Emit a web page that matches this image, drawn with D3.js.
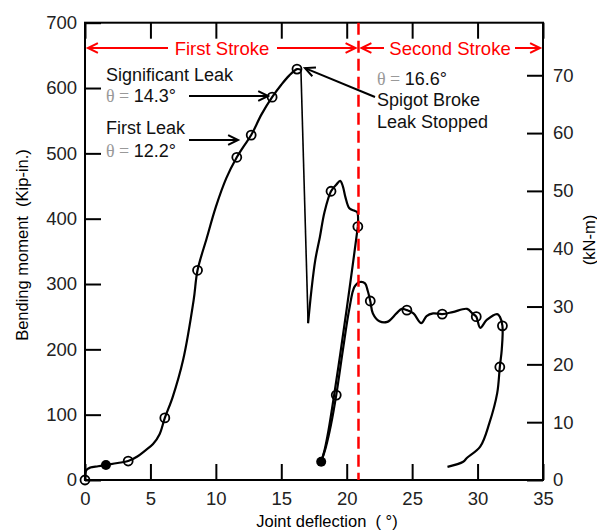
<!DOCTYPE html>
<html>
<head>
<meta charset="utf-8">
<script src="https://cdn.jsdelivr.net/npm/d3@7"></script>
<style>
  body { margin: 0; background: #fff; }
  text { font-family: "Liberation Sans", Arial, sans-serif; white-space: pre; }
</style>
</head>
<body>
<div id="viz"></div>
<script>
// joint deflection (deg) vs bending moment (kip-in.)
var loadUp = [[0,0],[0.1,15],[0.4,19],[1.0,21],[1.6,23],[2.5,26],[3.3,29],[4.0,36],[4.6,45],[5.2,55],
    [5.7,70],[6.1,95],[6.7,127],[7.5,184],[8.3,275],[8.6,321],[9.3,370],[10.0,418],[10.8,462],
    [11.6,494],[12.1,510],[12.7,528],[13.5,560],[14.3,586],[15.0,605],[15.6,619],[16.2,629],[16.5,628]];
var dropLine = [[16.5,628],[17.05,240]];
var rebound = [[17.05,240],[17.3,290],[17.6,337],[17.95,372],[18.3,410],[18.8,442],[19.2,452],
    [19.5,458],[19.7,450],[19.9,433],[20.2,416],[20.6,412],[20.8,410],[20.85,388]];
var unload = [[20.85,388],[20.5,335],[20.0,262],[19.5,192],[19.0,125],[18.6,75],[18.3,45],[18.05,28]];
var reload = [[18.05,28],[18.4,50],[18.8,85],[19.2,130],[19.7,198],[20.2,262],[20.6,296],[21.0,303],
    [21.4,301],[21.6,290],[21.8,274],[22.0,255],[22.5,243],[23.1,242],[23.8,255],[24.2,262],[24.6,260],
    [25.1,255],[25.7,240],[26.1,251],[26.6,255],[27.3,254],[28.1,257],[29.2,262],[29.6,255],[29.9,250],
    [30.2,233],[30.7,245],[31.5,254],[31.7,250],[31.9,236],[31.85,200],[31.7,173],[31.5,133],[30.9,87],
    [30.2,51],[29.2,34],[28.9,28],[27.7,20]];
var openMarks = [[0,0],[3.3,29],[6.1,95],[8.6,321],[11.6,494],[12.7,528],[14.3,586],[16.2,629],[18.8,442],
    [20.85,388],[19.2,130],[21.8,274],[24.6,260],[27.3,254],[29.9,250],[31.9,236],[31.7,173]];
var filledMarks = [[1.6,23],[18.05,28]];
var strokeSplit = 20.9;
var xTicks = [0,5,10,15,20,25,30,35];
var yTicks = [0,100,200,300,400,500,600,700];
var kNmTicks = [0,10,20,30,40,50,60,70];
var kipPerKNm = 8.8507;

var width = 597, height = 532,
    pLeft = 85, pRight = 543, pTop = 22.7, pBottom = 480;

var x = d3.scaleLinear().domain([0, 35]).range([pLeft, pRight]);
var y = d3.scaleLinear().domain([0, 700]).range([pBottom, pTop]);
var yR = d3.scaleLinear().domain([0, 700 / kipPerKNm]).range([pBottom, pTop]);

var svg = d3.select('#viz').append('svg')
    .attr('width', width)
    .attr('height', height);

// axes, ticks pointing in
function styleAxis(g) {
    g.select('.domain').remove();
    g.selectAll('.tick line').attr('stroke', '#000').attr('stroke-width', 2);
    g.selectAll('.tick text').attr('fill', '#222').style('font-size', '18.5px');
}
svg.append('g').attr('transform', 'translate(0,' + pBottom + ')')
    .call(d3.axisBottom(x).tickValues(xTicks).tickSize(-16).tickPadding(12))
    .call(styleAxis);
svg.append('g').attr('transform', 'translate(0,' + pTop + ')')
    .call(d3.axisTop(x).tickValues(xTicks).tickSize(-16).tickFormat(''))
    .call(styleAxis);
svg.append('g').attr('transform', 'translate(' + pLeft + ',0)')
    .call(d3.axisLeft(y).tickValues(yTicks).tickSize(-16).tickPadding(8))
    .call(styleAxis);
svg.append('g').attr('transform', 'translate(' + pRight + ',0)')
    .call(d3.axisRight(yR).tickValues(kNmTicks).tickSize(-16).tickPadding(10))
    .call(styleAxis);

svg.append('rect')
    .attr('x', pLeft).attr('y', pTop)
    .attr('width', pRight - pLeft).attr('height', pBottom - pTop)
    .attr('fill', 'none').attr('stroke', '#000').attr('stroke-width', 2);

// axis titles
svg.append('text')
    .attr('transform', 'translate(28,245) rotate(-90)')
    .attr('text-anchor', 'middle')
    .style('font-size', '16.5px')
    .text('Bending moment  (Kip-in.)');
svg.append('text')
    .attr('transform', 'translate(595,240) rotate(-90)')
    .attr('text-anchor', 'middle')
    .style('font-size', '16.5px')
    .text('(kN-m)');
svg.append('text')
    .attr('x', 327).attr('y', 527)
    .attr('text-anchor', 'middle')
    .style('font-size', '16.5px')
    .text('Joint deflection  ( °)');

// curves
var line = d3.line()
    .x(function(d){ return x(d[0]); })
    .y(function(d){ return y(d[1]); })
    .curve(d3.curveCatmullRom.alpha(0.5));
var straight = d3.line()
    .x(function(d){ return x(d[0]); })
    .y(function(d){ return y(d[1]); });

[loadUp, rebound, unload, reload].forEach(function(s){
    svg.append('path')
        .attr('d', line(s))
        .attr('fill', 'none')
        .attr('stroke', '#000')
        .attr('stroke-width', 2.2)
        .attr('stroke-linejoin', 'round');
});
svg.append('path')
    .attr('d', straight(dropLine))
    .attr('fill', 'none')
    .attr('stroke', '#000')
    .attr('stroke-width', 1.6);

svg.selectAll('circle.open').data(openMarks)
    .enter().append('circle')
    .attr('class', 'open')
    .attr('cx', function(d){ return x(d[0]); })
    .attr('cy', function(d){ return y(d[1]); })
    .attr('r', 4.5)
    .attr('fill', 'none')
    .attr('stroke', '#000')
    .attr('stroke-width', 1.8);
svg.selectAll('circle.filled').data(filledMarks)
    .enter().append('circle')
    .attr('class', 'filled')
    .attr('cx', function(d){ return x(d[0]); })
    .attr('cy', function(d){ return y(d[1]); })
    .attr('r', 5)
    .attr('fill', '#000');

// stroke split
svg.append('line')
    .attr('x1', x(strokeSplit)).attr('x2', x(strokeSplit))
    .attr('y1', pTop).attr('y2', pBottom)
    .attr('stroke', '#ff0000')
    .attr('stroke-width', 2.5)
    .attr('stroke-dasharray', '12,6');

function arrow(x1, y1, x2, y2, color) {
    var a = Math.atan2(y2 - y1, x2 - x1), L = 11, w = 0.45;
    svg.append('line')
        .attr('x1', x1).attr('y1', y1).attr('x2', x2).attr('y2', y2)
        .attr('stroke', color).attr('stroke-width', 2);
    svg.append('path')
        .attr('d', 'M' + (x2 - L * Math.cos(a - w)) + ',' + (y2 - L * Math.sin(a - w)) +
            'L' + x2 + ',' + y2 +
            'L' + (x2 - L * Math.cos(a + w)) + ',' + (y2 - L * Math.sin(a + w)))
        .attr('fill', 'none').attr('stroke', color).attr('stroke-width', 2);
}

var red = '#ff0000';
arrow(168, 48, 88, 48, red);
arrow(277, 48, x(strokeSplit) - 3, 48, red);
arrow(384, 48, x(strokeSplit) + 3, 48, red);
arrow(515, 48, 540, 48, red);
svg.append('text').attr('x', 222).attr('y', 55).attr('text-anchor', 'middle')
    .attr('fill', red).style('font-size', '18.5px').text('First Stroke');
svg.append('text').attr('x', 450).attr('y', 55).attr('text-anchor', 'middle')
    .attr('fill', red).style('font-size', '18.5px').text('Second Stroke');

// annotations
function note(tx, ty, s) {
    svg.append('text').attr('x', tx).attr('y', ty)
        .style('font-size', '18px').attr('fill', '#111').text(s);
}
function theta(tx, ty, v) {
    var t = svg.append('text').attr('x', tx).attr('y', ty).style('font-size', '18px');
    t.append('tspan').attr('fill', '#999').style('font-family', '"Liberation Serif", serif').text('θ = ');
    t.append('tspan').attr('fill', '#111').text(v);
}
note(106, 81, 'Significant Leak');
theta(106, 102, '14.3°');
note(106, 134, 'First Leak');
theta(106, 157, '12.2°');
theta(377, 85, '16.6°');
note(377, 106, 'Spigot Broke');
note(377, 128, 'Leak Stopped');

arrow(189, 96, x(14.3) - 4, 96, '#000');
arrow(189, 140, x(12.0) - 4, 140, '#000');
arrow(375, 97, x(16.2) + 8, y(629) - 1, '#000');
</script>
</body>
</html>
